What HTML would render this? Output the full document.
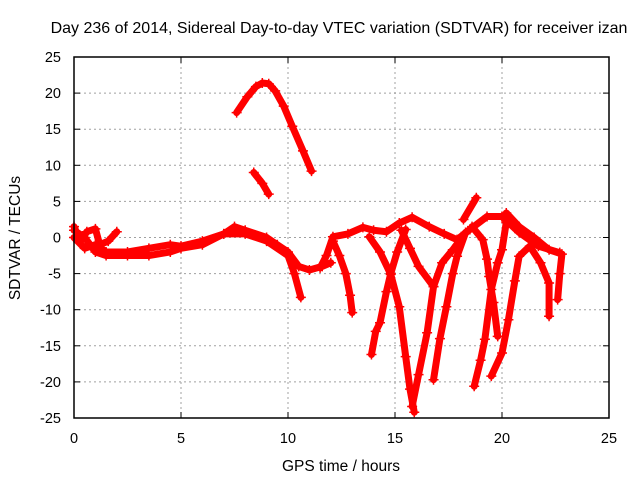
<!DOCTYPE html>
<html><head><meta charset="utf-8"><style>
body{margin:0;background:#fff;width:640px;height:480px;overflow:hidden}
svg{display:block;font-family:"Liberation Sans",sans-serif}
</style></head><body>
<svg id="chart" width="640" height="480">
<text x="339" y="33" text-anchor="middle" font-size="16">Day 236 of 2014, Sidereal Day-to-day VTEC variation (SDTVAR) for receiver izan</text>
<text x="341" y="471" text-anchor="middle" font-size="15.5">GPS time / hours</text>
<text transform="translate(20,238) rotate(-90)" text-anchor="middle" font-size="15.5">SDTVAR / TECUs</text>
<g id="grid"></g>
<g id="ticks"></g>
<g id="series"></g>
<rect x="74" y="57" width="535" height="361" fill="none" stroke="#000" stroke-width="1.5"/>
</svg>
<script>
const xTicks=[0,5,10,15,20,25];
const yTicks=[25,20,15,10,5,0,-5,-10,-15,-20,-25];
const trackArc=[[7.6,17.3],[8.1,19.5],[8.5,20.9],[8.8,21.4],[9.1,21.3],[9.4,20.3],[9.8,18.2],[10.2,15.4],[10.7,12],[11.1,9.2]];
const trackSmall=[[8.4,9],[8.8,7.5],[9.1,6]];
const trackMain1=[[0,0],[0.5,-1.5],[1,-1],[1.5,-2],[2.5,-2],[3.5,-1.5],[4.5,-1],[5,-1.2],[6,-0.5],[7,0.5],[7.5,1.5],[8,1],[9,0],[9.5,-1],[10,-2],[10.5,-4],[11,-4.5],[11.6,-4],[12,-3.5]];
const trackMain2=[[0,1],[0.5,0],[1,-2],[1.5,-2.5],[2.5,-2.5],[3.5,-2.5],[4.5,-2],[5,-1.5],[6,-1],[7,0.5],[8,0.5],[9,-0.5],[10,-2.5],[10.3,-5],[10.6,-8.3]];
const trackMain3=[[0,1.5],[0.3,-0.5],[0.6,0.8],[1,1.2],[1.2,-1],[1.6,-0.5],[2,0.8]];
const trackTop=[[11.5,-4.2],[11.8,-2.5],[12.1,0.1],[12.8,0.5],[13.5,1.4],[14,1],[14.6,0.8],[15.2,2],[15.8,2.8],[16.6,1.5],[17.3,0.5],[17.9,-0.3],[18.5,1.1],[19.3,2.9],[20,2.9],[20.8,0.7],[21.7,-1.2],[22.7,-2.1]];
const trackSpike=[[18.2,2.5],[18.8,5.5]];
const dip1=[[12.1,-0.5],[12.4,-2.5],[12.7,-5],[12.9,-8],[13,-10.4]];
const dip2=[[13.8,0.1],[14.3,-2],[14.8,-5.1],[15.2,-9.6],[15.5,-16.5],[15.7,-21],[15.9,-24.2]];
const dip2b=[[13.9,-16.2],[14.1,-13],[14.3,-11.8],[14.6,-7.5],[14.8,-5],[15.1,-2],[15.5,1.1]];
const dip3=[[15.3,1],[15.7,-1.5],[16.1,-4],[16.8,-6.8]];
const dip3b=[[15.8,-23.4],[16.1,-19],[16.5,-13.2],[16.8,-6.8],[17.2,-3.5],[17.7,-1.7],[18.3,0.7]];
const dip4=[[16.8,-19.7],[17.1,-14],[17.4,-9.6],[17.7,-5],[17.9,-2.6],[18.3,0.7]];
const dip5=[[18.6,1.5],[19.1,-0.3],[19.3,-3],[19.4,-5.4],[19.6,-9],[19.8,-13.7]];
const dip6=[[18.7,-20.6],[19,-17],[19.2,-14.1],[19.5,-7.2],[19.8,-3.5],[20,-1.7],[20.2,2.1]];
const dip7=[[19.5,-19.2],[20,-16],[20.3,-11.4],[20.6,-6],[20.8,-2.6],[21.3,-1.2],[21.8,-3.5],[22.2,-6.3],[22.2,-10.9]];
const dip8=[[20.2,3.4],[20.8,1.5],[21.5,0],[22.2,-1.7],[22.8,-2.3],[22.7,-5],[22.6,-8.6]];
const tracks=[trackArc,trackSmall,trackMain1,trackMain2,trackMain3,trackTop,trackSpike,dip1,dip2,dip2b,dip3,dip3b,dip4,dip5,dip6,dip7,dip8];

const X0=74,X1=609,Y0=418,Y1=57;
const xs=v=>X0+(v-0)/25*(X1-X0);
const ys=v=>Y0-(v+25)/50*(Y0-Y1);
const NS='http://www.w3.org/2000/svg';
const grid=document.getElementById('grid'),ticks=document.getElementById('ticks'),series=document.getElementById('series');
function mk(tag,attrs,parent){const e=document.createElementNS(NS,tag);for(const k in attrs)e.setAttribute(k,attrs[k]);parent.appendChild(e);return e;}
xTicks.forEach(t=>{
  const x=xs(t);
  if(t>0&&t<25){const g=mk('line',{x1:x,x2:x,y1:Y1,y2:Y0,stroke:'#a0a0a0','stroke-dasharray':'2,3'},grid);
  
  }
  mk('line',{x1:x,x2:x,y1:Y0,y2:Y0-6,stroke:'#000'},ticks);
  mk('line',{x1:x,x2:x,y1:Y1,y2:Y1+6,stroke:'#000'},ticks);
  const tx=mk('text',{x:x,y:443,'text-anchor':'middle','font-size':'14.5'},ticks);
  tx.textContent=t;
  
  
});
yTicks.forEach(t=>{
  const y=ys(t);
  if(t>-25&&t<25){const g=mk('line',{x1:X0,x2:X1,y1:y,y2:y,stroke:'#a0a0a0','stroke-dasharray':'2,3'},grid);
  
  }
  mk('line',{x1:X0,x2:X0+6,y1:y,y2:y,stroke:'#000'},ticks);
  mk('line',{x1:X1,x2:X1-6,y1:y,y2:y,stroke:'#000'},ticks);
  const tx=mk('text',{x:61,y:y+5,'text-anchor':'end','font-size':'14.5'},ticks);
  tx.textContent=t;
  
  
});
tracks.forEach(tr=>{
  const pl=mk('polyline',{points:tr.map(p=>xs(p[0])+','+ys(p[1])).join(' '),fill:'none',stroke:'#ff0000','stroke-width':7,'stroke-linejoin':'round','stroke-linecap':'round'},series);
  
  
  tr.forEach(p=>{
    const x=xs(p[0]),y=ys(p[1]);
    const m=mk('path',{d:`M${x-5},${y}H${x+5}M${x},${y-5}V${y+5}`,stroke:'#ff0000','stroke-width':1.5},series);
    
    
  });
});
</script>
</body></html>
